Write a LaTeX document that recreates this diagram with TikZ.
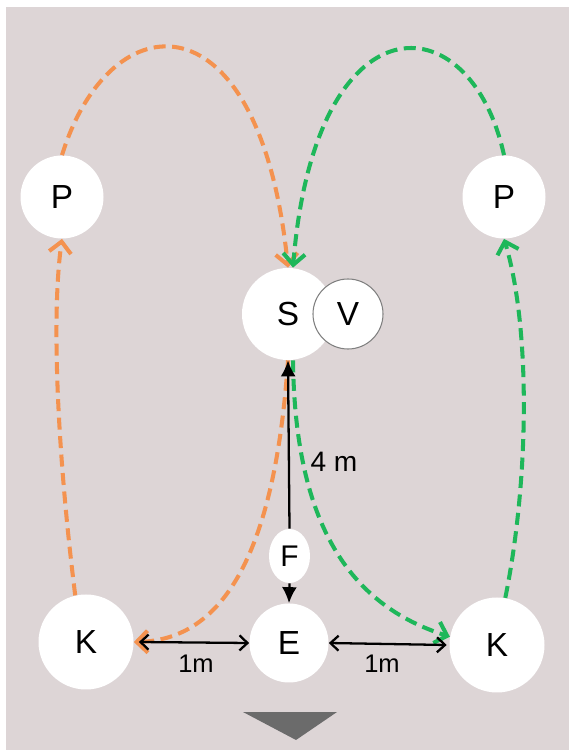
\documentclass[tikz,border=0pt]{standalone}
\usepackage{fontspec}
\setmainfont{Liberation Sans}
\usetikzlibrary{arrows.meta,shapes.geometric}
\definecolor{bgpink}{HTML}{DDD5D6}
\definecolor{orangeline}{HTML}{F4924F}
\definecolor{greenline}{HTML}{1EB75A}
\definecolor{triangray}{HTML}{6B6B6B}
\begin{document}
\begin{tikzpicture}[
    spot/.style={circle,fill=white,inner sep=0pt,font=\fontsize{19}{21}\selectfont},
    orangepath/.style={orangeline,line width=2.3pt,dash pattern=on 0.24cm off 0.13cm,
        -{Straight Barb[length=2.2mm,width=4.4mm,line width=2.3pt]}},
    greenpath/.style={greenline,line width=2.3pt,dash pattern=on 0.24cm off 0.13cm,
        -{Straight Barb[length=2.2mm,width=4.4mm,line width=2.3pt]}},
    measure/.style={black,line width=1.3pt},
    lbl/.style={font=\fontsize{14.5}{16}\selectfont}
  ]
            \useasboundingbox (0,0) rectangle (11.38,15);
            \fill[bgpink] (0.12,0) rectangle (11.38,14.86);

            % stations
            \node[spot,minimum size=1.66cm] (Pl) at (1.24,11.06) {P};
            \node[spot,minimum size=1.66cm] (Pr) at (10.08,11.06) {P};
            \node[spot,minimum size=1.84cm] (S) at (5.76,8.72) {S};
            \node[circle,fill=white,draw=gray,line width=0.6pt,minimum size=1.4cm,inner sep=0pt,
                font=\fontsize{19}{21}\selectfont] (V) at (6.96,8.72) {V};
            \node[ellipse,fill=white,inner sep=0pt,minimum width=0.82cm,minimum height=1.08cm,
                font=\fontsize{17}{19}\selectfont] (F) at (5.79,3.88) {F};
            \node[spot,minimum size=1.58cm] (E) at (5.78,2.14) {E};
            \node[spot,minimum size=1.9cm] (Kl) at (1.72,2.16) {K};
            \node[spot,minimum size=1.9cm] (Kr) at (9.94,2.1) {K};

            % orange loop
            \draw[orangepath] (Kl.103) .. controls (1.2,5.5) and (1.0,8.5) .. (Pl.south);
            \draw[orangepath] (Pl.north) .. controls (2.2,15.0) and (5.2,15.2) .. (S.north);
            \draw[orangepath] (S.south) .. controls (5.5,4.0) and (4.5,2.2) .. (Kl.east);

            % green loop
            \draw[greenpath] (Kr.80) .. controls (10.6,5.5) and (10.6,8.5) .. (Pr.south);
            \draw[greenpath] (Pr.north) .. controls (9.4,15.0) and (6.3,15.1) .. ([xshift=1mm]S.north);
            \draw[greenpath] ([xshift=1mm]S.south) .. controls (5.9,4.5) and (7.0,2.9) .. (Kr.170);

            % distances
            \draw[measure,-{Latex[length=3.2mm,width=3mm]}] (F.north) -- (S.south);
            \draw[measure,-{Latex[length=3.2mm,width=3mm]}] (F.south) -- (E.north);
            \draw[measure,{Straight Barb[length=1.6mm,width=3mm]}-{Straight Barb[length=1.6mm,width=3mm]}]
                ([xshift=1mm]Kl.east) -- (E.west);
            \draw[measure,{Straight Barb[length=1.6mm,width=3mm]}-{Straight Barb[length=1.6mm,width=3mm]}]
                (E.east) -- ([xshift=-0.5mm]Kr.west);
            \node[font=\fontsize{16}{18}\selectfont] (four) at (6.68,5.76) {4 m};
            \node[lbl] (onel) at (3.92,1.72) {1m};
            \node[lbl] (oner) at (7.64,1.72) {1m};

            \fill[triangray] (4.86,0.76) -- (6.74,0.76) -- (5.92,0.2) -- cycle;
\end{tikzpicture}
\end{document}
